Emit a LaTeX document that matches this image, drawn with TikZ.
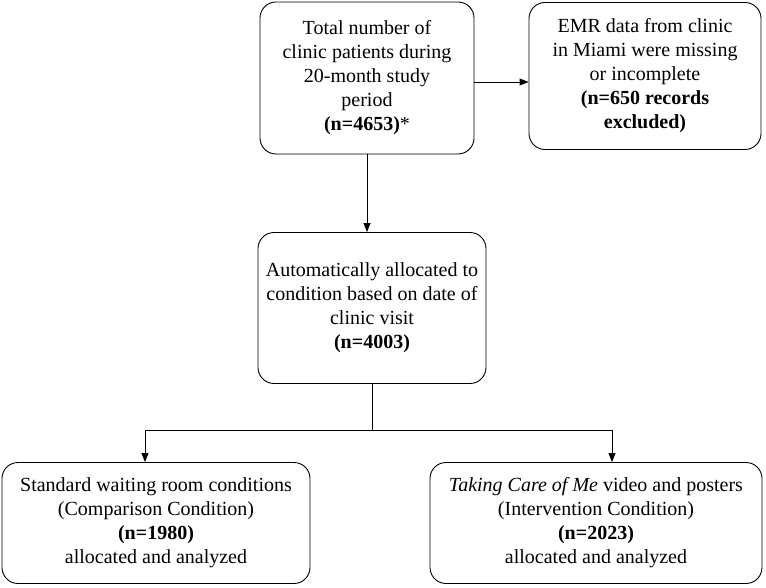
\documentclass[tikz,border=0pt]{standalone}
\usepackage{fontspec}
\setmainfont{Liberation Serif}
\usetikzlibrary{arrows.meta}
\begin{document}
\begin{tikzpicture}[x=1pt,y=-1pt,
  box/.style={draw, line width=0.9pt, rounded corners=16pt, align=center, inner sep=2pt,
    font=\fontsize{20}{24}\selectfont},
  arr/.style={line width=0.9pt, -{Triangle[length=9pt,width=7pt]}},
  ln/.style={line width=0.9pt}]
\useasboundingbox (0,0) rectangle (766,588);
\node[box, minimum width=214pt, minimum height=152pt] (A) at (367,78)
  {Total number of\\clinic patients during\\20-month study\\period\\\textbf{(n=4653)}*};
\node[box, minimum width=232pt, minimum height=147pt] (B) at (645,76)
  {EMR data from clinic\\in Miami were missing\\or incomplete\\\textbf{(n=650 records}\\\textbf{excluded)}};
\node[box, minimum width=228pt, minimum height=151pt] (C) at (372,308)
  {Automatically allocated to\\condition based on date of\\clinic visit\\\textbf{(n=4003)}};
\node[box, minimum width=308pt, minimum height=121pt] (D) at (156,523)
  {Standard waiting room conditions\\(Comparison Condition)\\\textbf{(n=1980)}\\allocated and analyzed};
\node[box, minimum width=332pt, minimum height=121pt] (E) at (596,523)
  {\textit{Taking Care of Me} video and posters\\(Intervention Condition)\\\textbf{(n=2023)}\\allocated and analyzed};
\coordinate (ja) at (474,82);
\coordinate (jl) at (145,430);
\coordinate (jr) at (612,430);
\draw[arr] (ja) -- (ja -| B.west);
\draw[arr] (A.south) -- (A.south |- C.north);
\draw[ln] (C.south) -- (C.south |- jl);
\draw[ln] (jl) -- (jr);
\draw[arr] (jl) -- (jl |- D.north);
\draw[arr] (jr) -- (jr |- E.north);
\end{tikzpicture}
\end{document}
